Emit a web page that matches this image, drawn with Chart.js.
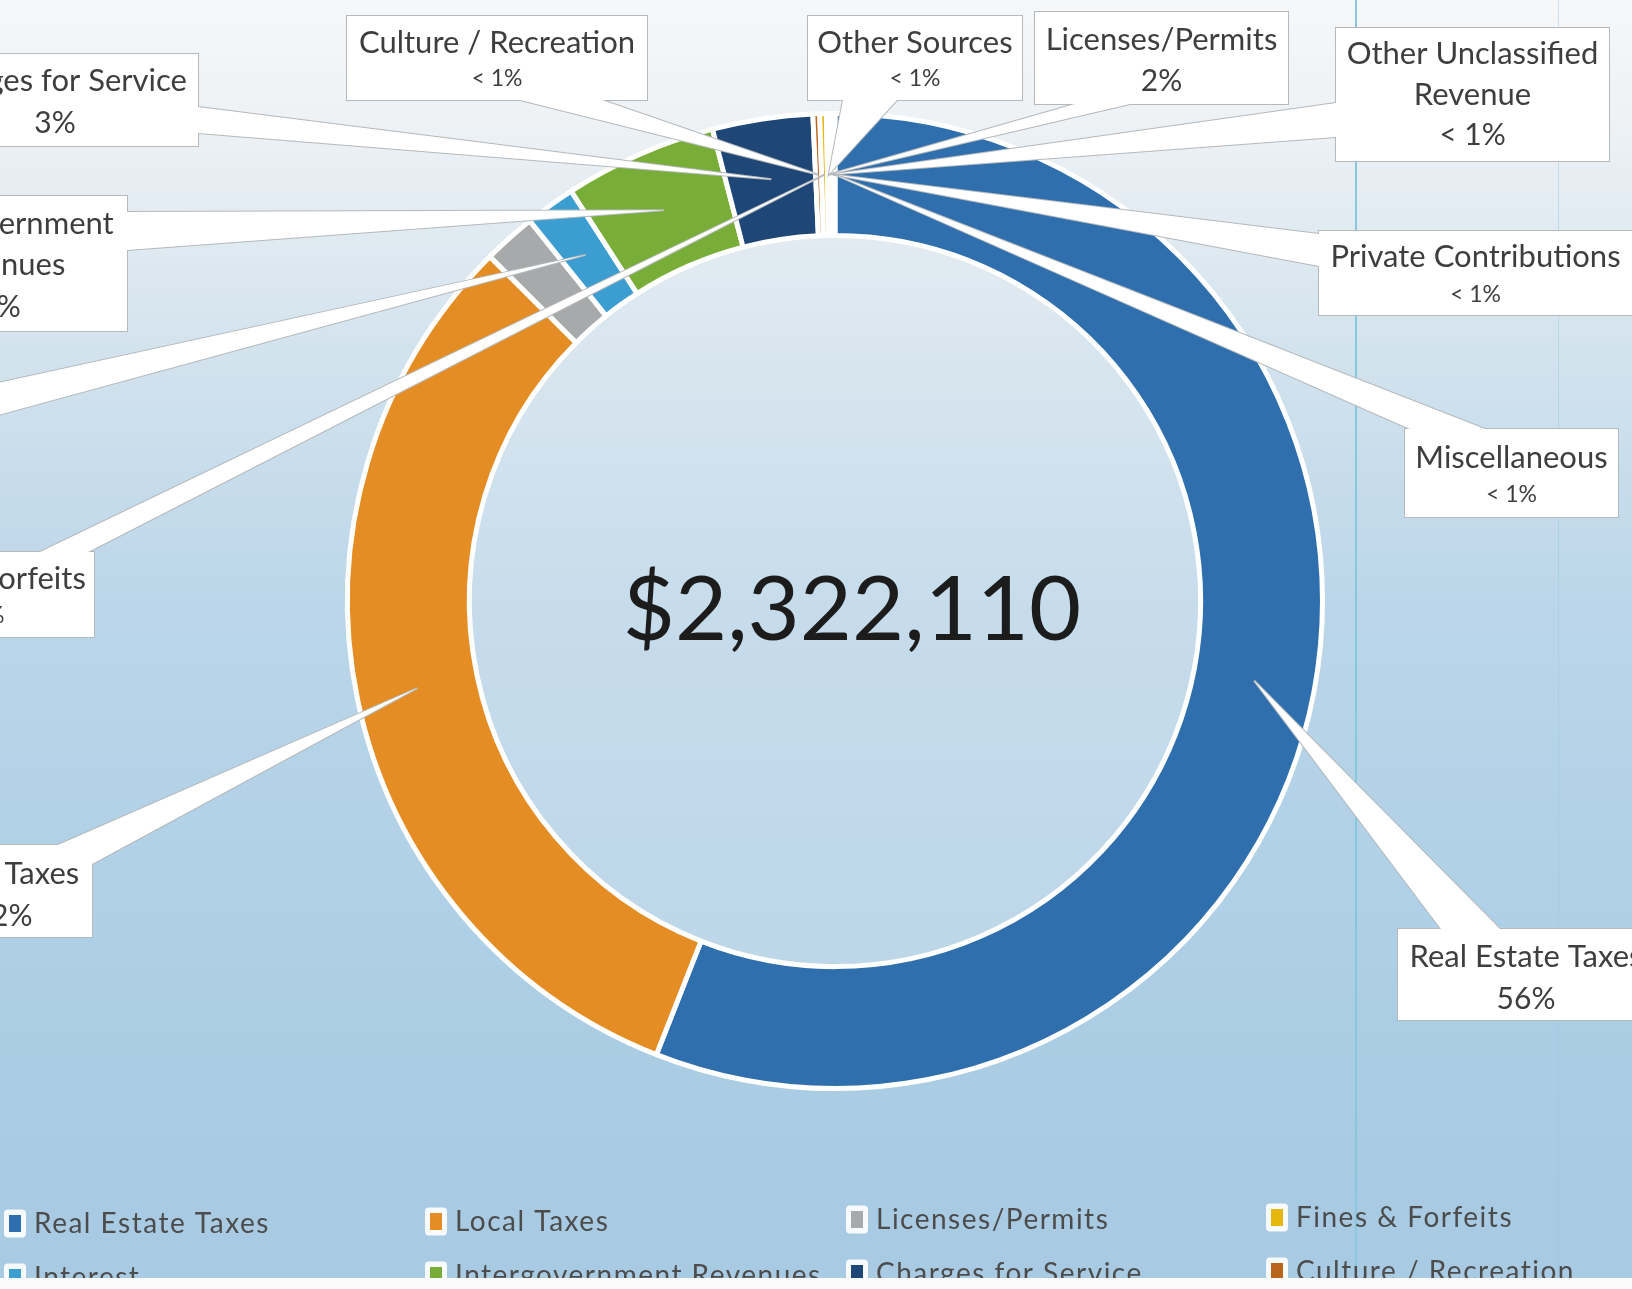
<!DOCTYPE html>
<html>
<head>
<meta charset="utf-8">
<script src="https://cdn.jsdelivr.net/npm/chart.js@4/dist/chart.umd.min.js"></script>
<style>
html,body{margin:0;padding:0;background:#fff;overflow:hidden}
canvas{display:block}
</style>
</head>
<body>
<canvas id="c" width="1632" height="1289"></canvas>
<script>
// ---------- data (ring order, clockwise from 12 o'clock) ----------
const categories = ['Real Estate Taxes','Local Taxes','Licenses/Permits','Interest','Intergovernment Revenues','Charges for Service','Culture / Recreation','Fines & Forfeits','Other Sources','Other Unclassified Revenue','Private Contributions','Miscellaneous'];
const revenue = [1299700, 731800, 40600, 38700, 117400, 77100, 5200, 5100, 2300, 1900, 1300, 1010];
const sliceColors = ['#2f6fae','#e58d25','#a8a9aa','#3b9dd0','#78ad38','#1e4778','#b8641a','#e6b80e','#5f6163','#8a6d10','#27508a','#466b2a'];
const legendOrder = ['Real Estate Taxes','Local Taxes','Licenses/Permits','Fines & Forfeits','Interest','Intergovernment Revenues','Charges for Service','Culture / Recreation','Other Sources','Other Unclassified Revenue','Private Contributions','Miscellaneous'];

const total = revenue.reduce((a,b)=>a+b,0);
function pctText(name){
  const v = revenue[categories.indexOf(name)] / total * 100;
  return v < 1 ? '< 1%' : Math.round(v) + '%';
}

// ---------- callout layout (label boxes placed as in the original) ----------
const callouts = [
  {cat:'Charges for Service', title:['Charges for Service'], box:[-88,54,198,146], ys:[81,123], sizes:[31,30], base:[[198,107],[198,133]]},
  {cat:'Intergovernment Revenues', title:['Intergovernment','Revenues'], box:[-127,196,127,331], ys:[224,265,307], sizes:[31,31,30], base:[[127,212],[127,250]]},
  {cat:'Interest', title:['Interest'], box:[-200,370,-2,455], ys:[398,436], sizes:[31,30], base:[[-2,383],[-2,415]]},
  {cat:'Fines & Forfeits', title:['Fines & Forfeits'], box:[-136,552,94,637], ys:[579,616], sizes:[31,23], base:[[40,552],[88,552]]},
  {cat:'Local Taxes', title:['Local Taxes'], box:[-86,845,92,937], ys:[874,916], sizes:[31,30], base:[[58,845],[92,864]]},
  {cat:'Culture / Recreation', title:['Culture / Recreation'], box:[347,16,647,100], ys:[43,79], sizes:[31,23], base:[[520,100],[602,100]]},
  {cat:'Other Sources', title:['Other Sources'], box:[808,16,1022,100], ys:[43,79], sizes:[31,23], base:[[843,100],[897,100]]},
  {cat:'Licenses/Permits', target:'Other Sources', title:['Licenses/Permits'], box:[1035,12,1288,104], ys:[40,81], sizes:[31,30], base:[[1075,104],[1130,104]]},
  {cat:'Other Unclassified Revenue', title:['Other Unclassified','Revenue'], box:[1336,28,1609,161], ys:[54,95,135], sizes:[31,31,30], base:[[1336,103],[1336,137]]},
  {cat:'Private Contributions', title:['Private Contributions'], box:[1319,231,1632,315], ys:[257,295], sizes:[31,23], base:[[1319,234],[1319,266]]},
  {cat:'Miscellaneous', title:['Miscellaneous'], box:[1405,429,1618,517], ys:[458,495], sizes:[31,23], base:[[1410,429],[1485,429]]},
  {cat:'Real Estate Taxes', title:['Real Estate Taxes'], box:[1398,929,1654,1020], ys:[957,999], sizes:[31,30], base:[[1441,929],[1500,929]]}
];

const FONT = 'Lato, "Open Sans", sans-serif';

function arcCentroid(chart, name){
  const meta = chart.getDatasetMeta(0);
  const el = meta.data[categories.indexOf(name)];
  const p = el.getProps(['x','y','startAngle','endAngle','innerRadius','outerRadius'], true);
  const a = (p.startAngle + p.endAngle) / 2;
  const r = (p.innerRadius + p.outerRadius) / 2;
  return [p.x + r * Math.cos(a), p.y + r * Math.sin(a)];
}

const bgPlugin = {
  id: 'bg',
  beforeDraw(chart){
    const {ctx, width, height} = chart;
    ctx.save();
    const g = ctx.createLinearGradient(0, 0, 0, height);
    g.addColorStop(0, '#f6f7f8');
    g.addColorStop(0.09, '#eef2f5');
    g.addColorStop(0.27, '#d3e3ee');
    g.addColorStop(0.47, '#bbd6e9');
    g.addColorStop(0.70, '#afd0e6');
    g.addColorStop(0.92, '#a8cbe3');
    g.addColorStop(1, '#a8cbe3');
    ctx.fillStyle = g;
    ctx.fillRect(0, 0, width, height);
    // faint vertical rules of the scanned page
    ctx.strokeStyle = '#86c8dc';
    ctx.lineWidth = 2;
    ctx.beginPath(); ctx.moveTo(1356, 0); ctx.lineTo(1356, 1278); ctx.stroke();
    ctx.strokeStyle = 'rgba(150,200,220,0.45)';
    ctx.lineWidth = 1;
    ctx.beginPath(); ctx.moveTo(1558.5, 0); ctx.lineTo(1558.5, 1278); ctx.stroke();
    // lighter doughnut hole
    const el = chart.getDatasetMeta(0).data[0];
    const p = el.getProps(['x','y','innerRadius'], true);
    ctx.beginPath();
    ctx.arc(p.x, p.y, p.innerRadius, 0, Math.PI * 2);
    ctx.fillStyle = 'rgba(236,241,245,0.25)';
    ctx.fill();
    ctx.restore();
  }
};

const overlayPlugin = {
  id: 'overlay',
  afterDatasetsDraw(chart){
    const {ctx} = chart;
    const el = chart.getDatasetMeta(0).data[0];
    const c = el.getProps(['x','y'], true);
    ctx.save();
    // center total
    ctx.fillStyle = '#1c1c1c';
    ctx.font = '90px ' + FONT;
    ctx.textAlign = 'center';
    ctx.textBaseline = 'alphabetic';
    ctx.fillText('$' + total.toLocaleString('en-US'), c.x + 17, c.y + 39);

    // callouts
    callouts.forEach(co => {
      const tip = arcCentroid(chart, co.target || co.cat);
      const [x1, y1, x2, y2] = co.box;
      const [b1, b2] = co.base;
      ctx.beginPath();
      ctx.rect(x1, y1, x2 - x1, y2 - y1);
      ctx.moveTo(b1[0], b1[1]);
      ctx.lineTo(tip[0], tip[1]);
      ctx.lineTo(b2[0], b2[1]);
      ctx.strokeStyle = '#b5b9bc';
      ctx.lineWidth = 2;
      ctx.lineJoin = 'miter';
      ctx.stroke();
      ctx.fillStyle = '#ffffff';
      ctx.fillRect(x1, y1, x2 - x1, y2 - y1);
      ctx.beginPath();
      ctx.moveTo(b1[0], b1[1]);
      ctx.lineTo(tip[0], tip[1]);
      ctx.lineTo(b2[0], b2[1]);
      ctx.closePath();
      ctx.fill();
      const cx = (x1 + x2) / 2;
      const lines = co.title.concat([pctText(co.cat)]);
      ctx.fillStyle = '#3e3e3e';
      ctx.textAlign = 'center';
      ctx.textBaseline = 'middle';
      lines.forEach((t, i) => {
        ctx.font = co.sizes[i] + 'px ' + FONT;
        ctx.fillText(t, cx, co.ys[i]);
      });
    });
    ctx.restore();
  },
  afterDraw(chart){
    const {ctx, width, height} = chart;
    ctx.save();
    // legend
    const colX = [9, 430, 851, 1271];
    legendOrder.forEach((name, k) => {
      const row = Math.floor(k / 4), col = k % 4;
      const mx = colX[col];
      const cy = 1223.5 + row * 54 - col * 2;
      ctx.fillStyle = 'rgba(255,255,255,0.92)';
      ctx.beginPath();
      if (ctx.roundRect) ctx.roundRect(mx - 5, cy - 14, 22, 28, 4); else ctx.rect(mx - 5, cy - 14, 22, 28);
      ctx.fill();
      ctx.fillStyle = sliceColors[categories.indexOf(name)];
      ctx.fillRect(mx, cy - 8.5, 12, 17);
      ctx.fillStyle = '#4c4c4c';
      ctx.font = '28px ' + FONT;
      if ('letterSpacing' in ctx) ctx.letterSpacing = '1.5px';
      ctx.textAlign = 'left';
      ctx.textBaseline = 'middle';
      ctx.fillText(name, mx + 25, cy);
      if ('letterSpacing' in ctx) ctx.letterSpacing = '0px';
    });
    // white margin at the bottom of the scanned page
    ctx.fillStyle = '#fbfbfb';
    ctx.fillRect(0, 1278, width, height - 1278);
    ctx.restore();
  }
};

function build(){
  new Chart(document.getElementById('c').getContext('2d'), {
    type: 'doughnut',
    data: {
      labels: categories,
      datasets: [{
        data: revenue,
        backgroundColor: sliceColors,
        borderColor: '#ffffff',
        borderWidth: 5,
        hoverOffset: 0,
        offset: 0
      }]
    },
    options: {
      responsive: false,
      animation: false,
      cutout: '75%',
      rotation: 0,
      events: [],
      layout: {padding: {left: 345, top: 111, right: 307, bottom: 198}},
      plugins: {legend: {display: false}, tooltip: {enabled: false}}
    },
    plugins: [bgPlugin, overlayPlugin]
  });
}
if (document.fonts && document.fonts.load) {
  Promise.all([document.fonts.load('31px Lato'), document.fonts.load('90px Lato')]).then(build, build);
} else build();
</script>
</body>
</html>
